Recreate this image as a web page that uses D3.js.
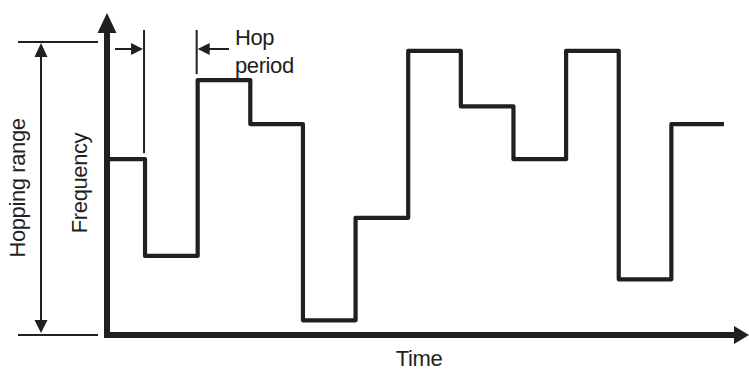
<!DOCTYPE html>
<html>
<head>
<meta charset="utf-8">
<script src="https://cdn.jsdelivr.net/npm/d3@7"></script>
<style>
  body { margin: 0; background: #fff; }
  text { font-family: "Liberation Sans", Arial, sans-serif; fill: #231f20; letter-spacing: -0.4px; }
</style>
</head>
<body>
<div id="chart"></div>
<script>
var svgWidth = 749;
var svgHeight = 370;

// hop index -> frequency level (arbitrary units, 0 = bottom of range, 100 = top)
var hopIndex = [0, 1, 2, 3, 4, 5, 6, 7, 8, 9, 10, 11];
var hopFreq = [60, 27, 87, 72, 5, 40, 97, 78, 60, 97, 19, 72];
var hopCount = 12;

var labels = {
  x: "Time",
  y: "Frequency",
  range: "Hopping range",
  hop1: "Hop",
  hop2: "period"
};

var ink = "#231f20";

var svg = d3.select("#chart")
  .append("svg")
  .attr("width", svgWidth)
  .attr("height", svgHeight);

// scales
var xScale = d3.scaleLinear()
  .domain([0, hopCount])
  .range([92.4, 724]);

var yScale = d3.scaleLinear()
  .domain([0, 100])
  .range([335, 42]);

var axisX = 107;       // position of the frequency axis
var axisY = 335;       // position of the time axis

// Hopping range bracket
var rangeX = 41;
[0, 100].forEach(function(v) {
  svg.append("line")
    .attr("x1", 18).attr("x2", 98)
    .attr("y1", yScale(v)).attr("y2", yScale(v))
    .attr("stroke", ink)
    .attr("stroke-width", 2);
});
svg.append("line")
  .attr("x1", rangeX).attr("x2", rangeX)
  .attr("y1", yScale(100) + 10).attr("y2", yScale(0) - 10)
  .attr("stroke", ink)
  .attr("stroke-width", 2);
svg.append("path")
  .attr("d", `M${rangeX},${yScale(100) + 1} L${rangeX - 6.5},${yScale(100) + 15} L${rangeX + 6.5},${yScale(100) + 15} Z`)
  .attr("fill", ink);
svg.append("path")
  .attr("d", `M${rangeX},${yScale(0) - 2} L${rangeX - 6.5},${yScale(0) - 15} L${rangeX + 6.5},${yScale(0) - 15} Z`)
  .attr("fill", ink);

// axes
svg.append("line")
  .attr("x1", axisX).attr("x2", axisX)
  .attr("y1", axisY).attr("y2", 30)
  .attr("stroke", ink)
  .attr("stroke-width", 6);
svg.append("path")
  .attr("d", `M${axisX},13 L${axisX - 9.5},33 L${axisX + 9.5},33 Z`)
  .attr("fill", ink);

svg.append("line")
  .attr("x1", axisX - 3).attr("x2", 737)
  .attr("y1", axisY).attr("y2", axisY)
  .attr("stroke", ink)
  .attr("stroke-width", 6);
svg.append("path")
  .attr("d", `M749,${axisY} L734,${axisY - 9} L734,${axisY + 9} Z`)
  .attr("fill", ink);

// hopping signal
var stepData = hopIndex.map(function(t, i) {
  return { t: i === 0 ? xScale.invert(axisX + 3) : t, f: hopFreq[i] };
});
stepData.push({ t: hopCount, f: hopFreq[hopFreq.length - 1] });

var stepLine = d3.line()
  .x(d => xScale(d.t))
  .y(d => yScale(d.f))
  .curve(d3.curveStepAfter);

svg.append("path")
  .datum(stepData)
  .attr("d", stepLine)
  .attr("fill", "none")
  .attr("stroke", ink)
  .attr("stroke-width", 4.2)
  .attr("stroke-linejoin", "round");

// hop period marker
var hx1 = xScale(1) - 1;
var hx2 = xScale(2) - 1;
var markY = 49;
svg.append("line")
  .attr("x1", hx1).attr("x2", hx1)
  .attr("y1", 30).attr("y2", yScale(hopFreq[0]) - 6)
  .attr("stroke", ink)
  .attr("stroke-width", 2);
svg.append("line")
  .attr("x1", hx2).attr("x2", hx2)
  .attr("y1", 30).attr("y2", yScale(hopFreq[2]) - 6)
  .attr("stroke", ink)
  .attr("stroke-width", 2);

svg.append("line")
  .attr("x1", 115).attr("x2", hx1 - 10)
  .attr("y1", markY).attr("y2", markY)
  .attr("stroke", ink)
  .attr("stroke-width", 2);
svg.append("path")
  .attr("d", `M${hx1 - 1},${markY} L${hx1 - 13},${markY - 6} L${hx1 - 13},${markY + 6} Z`)
  .attr("fill", ink);

svg.append("line")
  .attr("x1", hx2 + 10).attr("x2", 229)
  .attr("y1", markY).attr("y2", markY)
  .attr("stroke", ink)
  .attr("stroke-width", 2);
svg.append("path")
  .attr("d", `M${hx2 + 1},${markY} L${hx2 + 13},${markY - 6} L${hx2 + 13},${markY + 6} Z`)
  .attr("fill", ink);

// text labels
svg.append("text")
  .attr("x", 235).attr("y", 45)
  .attr("font-size", "22px")
  .text(labels.hop1);
svg.append("text")
  .attr("x", 235).attr("y", 73)
  .attr("font-size", "22px")
  .text(labels.hop2);

svg.append("text")
  .attr("x", 419).attr("y", 366)
  .attr("text-anchor", "middle")
  .attr("font-size", "22px")
  .text(labels.x);

svg.append("text")
  .attr("transform", "translate(87, 183) rotate(-90)")
  .attr("text-anchor", "middle")
  .attr("font-size", "22px")
  .text(labels.y);

svg.append("text")
  .attr("transform", "translate(25, 188) rotate(-90)")
  .attr("text-anchor", "middle")
  .attr("font-size", "22px")
  .text(labels.range);
</script>
</body>
</html>
